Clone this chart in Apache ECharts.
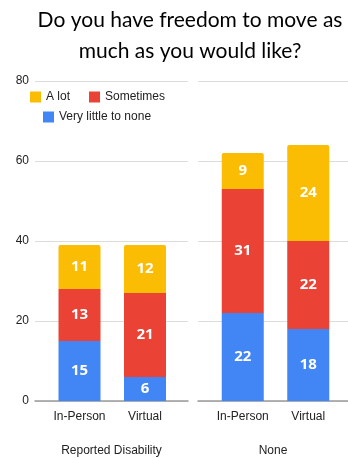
<!DOCTYPE html>
<html><head><meta charset="utf-8">
<script src="https://cdn.jsdelivr.net/npm/echarts@6/dist/echarts.min.js"></script>
<style>html,body{margin:0;padding:0;background:#fff}#c{width:348px;height:458px}</style>
</head><body><div id="c"></div>
<script>
var titleText = 'Do you have freedom to move as\nmuch as you would like?';
var categories = ['In-Person', 'Virtual'];
var groups = ['Reported Disability', 'None'];
var seriesNames = ['Very little to none', 'Sometimes', 'A lot'];
var disabilityVeryLittle = [15, 6];
var disabilitySometimes = [13, 21];
var disabilityALot = [11, 12];
var noneVeryLittle = [22, 18];
var noneSometimes = [31, 22];
var noneALot = [9, 24];
var yMin = 0, yMax = 80, yStep = 20;

var colors = ['#4285F4', '#EA4335', '#FBBC04'];
var chart = echarts.init(document.getElementById('c'), null, {renderer: 'canvas'});
var top0 = 81, h = 320;
function bgX(gi, name) {
  return {gridIndex: gi, type: 'category', data: [''], axisTick: {show: false}, axisLabel: {show: false},
    axisLine: {show: true, lineStyle: {color: '#9a9a9a', width: 1.5}},
    name: name, nameLocation: 'middle', nameGap: 44,
    nameTextStyle: {fontFamily: 'Liberation Sans', fontSize: 12, color: '#222'}};
}
function barX(gi) {
  return {gridIndex: gi, type: 'category', data: categories, axisTick: {show: false},
    axisLine: {show: false}, axisLabel: {interval: 0, margin: 10, fontFamily: 'Liberation Sans', fontSize: 12, color: '#222'}};
}
function yA(gi, showLabels, showSplit) {
  return {gridIndex: gi, type: 'value', min: yMin, max: yMax, interval: yStep,
    axisLine: {show: false}, axisTick: {show: false},
    axisLabel: {show: showLabels, margin: 6, fontFamily: 'Liberation Sans', fontSize: 12, color: '#222'},
    splitLine: {show: showSplit, lineStyle: {color: '#dcdcdc', width: 1}}};
}
function mk(name, data, idx, axisIdx, stack, isTop) {
  return {name: name, type: 'bar', stack: stack, xAxisIndex: axisIdx, yAxisIndex: axisIdx,
    data: data, barWidth: 42, itemStyle: {color: colors[idx], borderRadius: isTop ? [2, 2, 0, 0] : 0},
    label: {show: true, position: 'inside', color: '#fff', fontFamily: 'Open Sans', fontWeight: 'bold', fontSize: 15}};
}
function g(left, width) {
  return {left: left, top: top0, width: width, height: h, containLabel: false, outerBoundsMode: 'none'};
}
var legendText = {fontFamily: 'Liberation Sans', fontSize: 12, color: '#222'};
chart.setOption({
  animation: false,
  title: {text: titleText, left: 190, textAlign: 'center', top: 5, padding: 0,
    textStyle: {fontFamily: 'Lato', fontSize: 21, fontWeight: 'normal', color: '#000', lineHeight: 31}},
  legend: [
    {data: [seriesNames[2], seriesNames[1]], left: 30, top: 91, padding: 0, itemWidth: 11, itemHeight: 11, itemGap: 19, textStyle: legendText, icon: 'rect'},
    {data: [seriesNames[0]], left: 43, top: 111, padding: 0, itemWidth: 11, itemHeight: 11, textStyle: legendText, icon: 'rect'}
  ],
  grid: [g(35, 153), g(46.75, 131), g(198, 150), g(210, 131)],
  xAxis: [bgX(0, groups[0]), barX(1), bgX(2, groups[1]), barX(3)],
  yAxis: [yA(0, true, true), yA(1, false, false), yA(2, false, true), yA(3, false, false)],
  series: [
    mk(seriesNames[0], disabilityVeryLittle, 0, 1, 'L', false),
    mk(seriesNames[1], disabilitySometimes, 1, 1, 'L', false),
    mk(seriesNames[2], disabilityALot, 2, 1, 'L', true),
    mk(seriesNames[0], noneVeryLittle, 0, 3, 'R', false),
    mk(seriesNames[1], noneSometimes, 1, 3, 'R', false),
    mk(seriesNames[2], noneALot, 2, 3, 'R', true)
  ]
});
</script></body></html>
